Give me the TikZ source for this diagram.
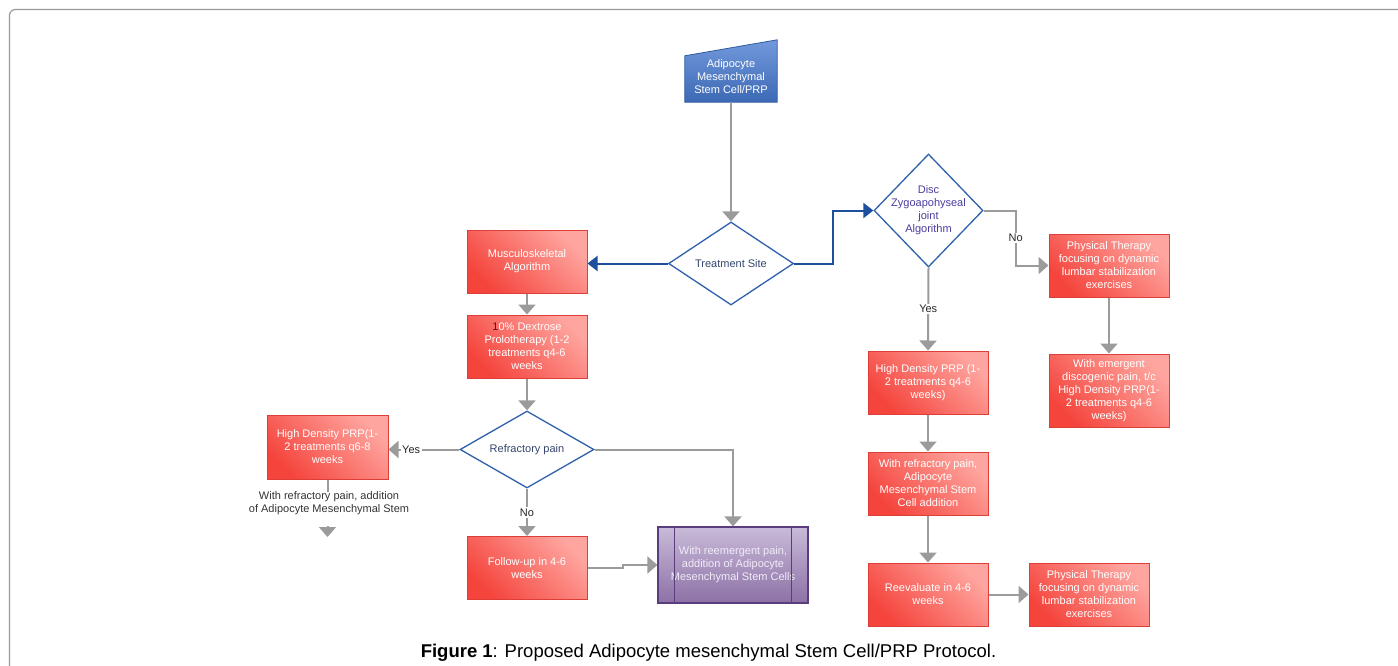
\documentclass[tikz,border=0pt]{standalone}
\usepackage{fontspec}
\setmainfont{Liberation Sans}
\usetikzlibrary{arrows.meta,shapes.geometric,calc}
\definecolor{redL}{HTML}{FFA59F}
\definecolor{redD}{HTML}{F4443C}
\definecolor{redB}{HTML}{DD3E38}
\definecolor{blueL}{HTML}{7399DB}
\definecolor{blueD}{HTML}{3C69B5}
\definecolor{blueB}{HTML}{2F5AA2}
\definecolor{diaB}{HTML}{2E60AC}
\definecolor{arrB}{HTML}{1E4E9E}
\definecolor{gline}{HTML}{9B9B9B}
\definecolor{purL}{HTML}{C8BAD8}
\definecolor{purD}{HTML}{8C71A6}
\definecolor{purB}{HTML}{5A3D7C}
\definecolor{purT}{HTML}{F2ECF8}
\definecolor{tsT}{HTML}{34466C}
\definecolor{discT}{HTML}{4A3D9E}
\definecolor{frameC}{HTML}{9A9A9A}
\definecolor{oneC}{HTML}{5A1414}
\tikzset{
  txt/.style={font=\fontsize{11}{13}\selectfont},
  box/.style={txt, rectangle, draw=redB, line width=1pt, minimum width=120pt, minimum height=63pt,
    inner sep=0pt, align=center, text=white, top color=redL, bottom color=redD, shading angle=-45},
  dia/.style={diamond, draw=diaB, line width=1.3pt, fill=white, inner sep=0pt},
  dtext/.style={txt, align=center, text=tsT},
  garrow/.style={draw=gline, line width=2pt, -{Triangle[width=17pt,length=10pt]}},
  gline/.style={draw=gline, line width=2pt},
  barrow/.style={draw=arrB, line width=2pt, -{Triangle[width=15pt,length=10pt]}},
  lbl/.style={txt, fill=white, inner sep=1.5pt, text=black!85},
}
\begin{document}
\begin{tikzpicture}[x=1pt,y=-1pt]
\useasboundingbox (0,0) rectangle (1398,666);
\draw[frameC, line width=1.2pt, rounded corners=6pt] (9.5,666) -- (9.5,9.5) -- (1398,9.5);

% top input node
\node[txt, rectangle, minimum width=92pt, minimum height=46pt, inner sep=0pt, align=center, text=white] (in) at (731,79) {};
\shade[top color=blueL, bottom color=blueD, draw=blueB, line width=0.8pt]
  (in.south west) -- (in.north west) -- ($(in.north east)+(0,-16)$) -- (in.south east) -- cycle;
\node[txt, align=center, text=white] at (731,77) {Adipocyte\\Mesenchymal\\Stem Cell/PRP};

% diamonds
\node[dia, minimum width=125pt, minimum height=83pt, label={[dtext]center:Treatment Site}] (ts) at (731,263.5) {};
\node[dia, minimum width=134pt, minimum height=77pt, label={[dtext]center:Refractory pain}] (rp) at (527,449.5) {};
\node[dia, minimum width=109pt, minimum height=113pt, label={[dtext, text=discT]center:Disc\\Zygoapohyseal\\joint\\Algorithm}] (disc) at (928.5,210.5) {};

% left column
\node[box] (msk) at (527,261.5) {Musculoskeletal\\Algorithm};
\node[box] (dex) at (527,346.5) {\textcolor{oneC}{1}0\% Dextrose\\Prolotherapy (1-2\\treatments q4-6\\weeks};
\node[box, minimum width=121pt, minimum height=64pt] (hdl) at (327.5,447) {High Density PRP(1-\\2 treatments q6-8\\weeks};
\node[txt, align=center, text=black!80, inner sep=0pt] (hdnote) at (329,503.5) {With refractory pain, addition\\of Adipocyte Mesenchymal Stem};
\coordinate (hdend) at (327.5,537);
\node[box] (fu) at (527,568) {Follow-up in 4-6\\weeks};
\node[txt, rectangle, draw=purB, line width=1.2pt, minimum width=150pt, minimum height=76pt, inner sep=0pt,
  align=center, text=purT, top color=purL, bottom color=purD] (pp) at (733,565) {With reemergent pain,\\addition of Adipocyte\\Mesenchymal Stem Cells};
\draw[purB, line width=1.2pt] ($(pp.north west)+(17,0)$) -- ($(pp.south west)+(17,0)$);
\draw[purB, line width=1.2pt] ($(pp.north east)+(-17,0)$) -- ($(pp.south east)+(-17,0)$);

% right side
\node[box] (pt1) at (1109,265.5) {Physical Therapy\\focusing on dynamic\\lumbar stabilization\\exercises};
\node[box, minimum height=73pt] (em) at (1109,390.5) {With emergent\\discogenic pain, t/c\\High Density PRP(1-\\2 treatments q4-6\\weeks)};
\node[box] (hdr) at (928,382.5) {High Density PRP (1-\\2 treatments q4-6\\weeks)};
\node[box] (rr) at (928,483.5) {With refractory pain,\\Adipocyte\\Mesenchymal Stem\\Cell addition};
\node[box] (re) at (928,594.5) {Reevaluate in 4-6\\weeks};
\node[box] (pt2) at (1089,594.5) {Physical Therapy\\focusing on dynamic\\lumbar stabilization\\exercises};

% connectors
\draw[garrow] (in.south) -- (ts.north);
\draw[barrow] (ts.west) -- (ts.west -| msk.east);
\draw[barrow] (ts.east) -- ++(39,0) |- (disc.west);
\draw[garrow] (msk.south) -- (dex.north);
\draw[garrow] (dex.south) -- (rp.north);
\draw[garrow] (rp.west) -- (rp.west -| hdl.east) node[lbl, pos=0.68] {Yes};
\draw[gline] (hdl.south) -- (hdl.south |- hdnote.north);
\draw[garrow, shorten <=11pt] (hdnote.south -| hdend) -- (hdend);
\draw[garrow] (rp.south) -- (fu.north) node[lbl, pos=0.5] {No};
\draw[garrow] (fu.east) -- ++(35,0) |- (pp.west);
\draw[garrow] (rp.east) -| (pp.north);
\draw[garrow] (disc.east) -- ++(32,0) |- (pt1.west) node[lbl, pos=0.25] {No};
\draw[garrow] (pt1.south) -- (em.north);
\draw[garrow] (disc.south) -- (hdr.north) node[lbl, pos=0.5] {Yes};
\draw[garrow] (hdr.south) -- (rr.north);
\draw[garrow] (rr.south) -- (re.north);
\draw[garrow] (re.east) -- (pt2.west);

% caption
\node[font=\fontsize{18.5}{22}\selectfont, inner sep=0pt] (cap) at (708.5,653) {\textbf{Figure 1}: Proposed Adipocyte mesenchymal Stem Cell/PRP Protocol.};
\end{tikzpicture}
\end{document}
